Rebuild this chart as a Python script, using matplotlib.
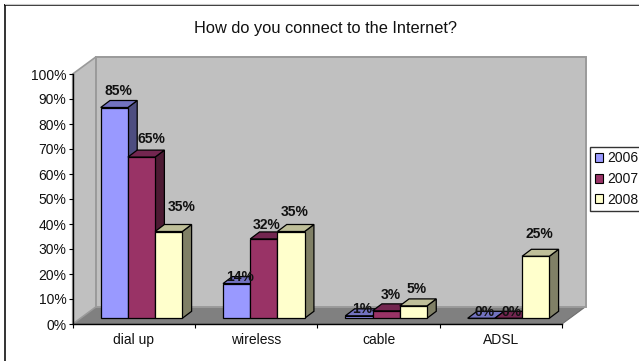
import matplotlib
matplotlib.use("Agg")
import matplotlib.pyplot as plt
from matplotlib.lines import Line2D
from matplotlib.patches import Patch, Polygon

categories = ["dial up", "wireless", "cable", "ADSL"]
years = ["2006", "2007", "2008"]
values_2006 = [85, 14, 1, 0]
values_2007 = [65, 32, 3, 0]
values_2008 = [35, 35, 5, 25]
yticks = list(range(0, 101, 10))

# label nudges in pixels relative to each bar's front-top centre (hand-placed in the original)
nudge_2006 = [(4, 16.7), (3.3, 6.3), (3.2, 6.5), (3.5, 6)]
nudge_2007 = [(10.2, 18), (2.8, 13.6), (4.7, 16), (3, 6)]
nudge_2008 = [(12.8, 24.7), (3.6, 19.4), (3.5, 17), (4, 22.4)]

W, H = 639, 361
plt.rcParams["font.family"] = ["Liberation Sans", "DejaVu Sans"]
plt.rcParams["font.size"] = 10
fig = plt.figure(figsize=(W / 100, H / 100), dpi=100, facecolor="white")

L, R, T, B = 72.7, 562.0, 74.0, 324.0
ax = fig.add_axes([L / W, 1 - B / H, (R - L) / W, (B - T) / H])
ax.set_xlim(0, 4)
ax.set_ylim(0, 100)
ax.patch.set_visible(False)
PX_X = 4 / (R - L)
PX_Y = 100 / (B - T)


def poly(pts, fc, ec="black", lw=0.9, z=2):
    ax.add_patch(Polygon(pts, closed=True, facecolor=fc, edgecolor=ec, linewidth=lw,
                         clip_on=False, zorder=z, joinstyle="miter"))


# 3D walls and floor
DX, DY = 23.5 * PX_X, 17.3 * PX_Y
wall_c, edge_c, floor_c = "#C0C0C0", "#9A9A9A", "#808080"
poly([(0, 0), (DX, DY), (4 + DX, DY), (4, 0)], floor_c, "#6E6E6E", 0.8, 1)
poly([(0, 0), (DX, DY), (DX, 100 + DY), (0, 100)], wall_c, edge_c, 1.2, 1)
poly([(DX, DY), (4 + DX, DY), (4 + DX, 100 + DY), (DX, 100 + DY)], wall_c, edge_c, 1.4, 1)

# bars
front_c = ["#9999FF", "#993366", "#FFFFCC"]
top_c = ["#7272BF", "#732650", "#BFBF99"]
side_c = ["#4D4D80", "#4D1A33", "#808066"]
series = [values_2006, values_2007, values_2008]
nudges = [nudge_2006, nudge_2007, nudge_2008]
BW = 27.2 * PX_X
START = 28.0 * PX_X
BASE = 5.7 * PX_Y
BX, BY = 9.3 * PX_X, 7.0 * PX_Y
SCALE = 0.992

for i in range(len(categories)):
    for k, vals in enumerate(series):
        x0 = i + START + k * BW
        x1 = x0 + BW
        y0 = BASE
        y1 = BASE + vals[i] * SCALE
        poly([(x1, y0), (x1 + BX, y0 + BY), (x1 + BX, y1 + BY), (x1, y1)], side_c[k], z=3 + i + k * 0.1)
        poly([(x0, y1), (x0 + BX, y1 + BY), (x1 + BX, y1 + BY), (x1, y1)], top_c[k], z=3 + i + k * 0.1)
        poly([(x0, y0), (x1, y0), (x1, y1), (x0, y1)], front_c[k], z=3 + i + k * 0.1)

for i in range(len(categories)):
    for k, vals in enumerate(series):
        xc = i + START + (k + 0.5) * BW
        yt = BASE + vals[i] * SCALE
        nx, ny = nudges[k][i]
        ax.annotate(f"{vals[i]}%", (xc, yt), xytext=(nx * 0.72, ny * 0.72), textcoords="offset points",
                    ha="center", va="center", fontweight="bold", fontsize=10, color="#111111",
                    zorder=20, annotation_clip=False)

# axes
for s in ("top", "right"):
    ax.spines[s].set_visible(False)
for s in ("left", "bottom"):
    ax.spines[s].set_linewidth(1.0)
    ax.spines[s].set_zorder(15)
ax.set_yticks(yticks)
ax.set_yticklabels([f"{v}%" for v in yticks])
ax.set_xticks(range(len(categories) + 1))
ax.set_xticklabels([])
ax.set_xticks([i + 0.5 for i in range(len(categories))], minor=True)
ax.set_xticklabels(categories, minor=True)
ax.tick_params(axis="y", length=3.2, width=0.8, pad=1.2, labelsize=10, color="black", labelcolor="#111111")
ax.tick_params(axis="x", which="major", length=3.2, width=0.8)
ax.tick_params(axis="x", which="minor", length=0, pad=6.5, labelsize=10, labelcolor="#111111")

fig.text(325 / W, 1 - 28.5 / H, "How do you connect to the Internet?", ha="center", va="center",
         fontsize=11.8, color="#111111")

# chart-area border (only left and top fall inside the crop)
fig.add_artist(Line2D([5 / W, 5 / W], [0, 1 - 5 / H], color="#333333", lw=1.4))
fig.add_artist(Line2D([5 / W, 1], [1 - 5 / H, 1 - 5 / H], color="black", lw=1.1))
fig.add_artist(Line2D([5 / W, 1], [1 - 4 / H, 1 - 4 / H], color="#C8C8C8", lw=0.8))

# legend
handles = [Patch(facecolor=c, edgecolor="black", linewidth=0.8) for c in front_c]
leg = fig.legend(handles, years, loc="upper left", bbox_to_anchor=(590.3 / W, 1 - 146.7 / H),
                 borderaxespad=0, frameon=True, fancybox=False, edgecolor="#333333", framealpha=1,
                 fontsize=10, handlelength=0.62, handleheight=0.62, handletextpad=0.3,
                 borderpad=0.33, labelspacing=0.48, labelcolor="#111111")
leg.get_frame().set_linewidth(1.0)

fig.savefig("out.png", dpi=100)
